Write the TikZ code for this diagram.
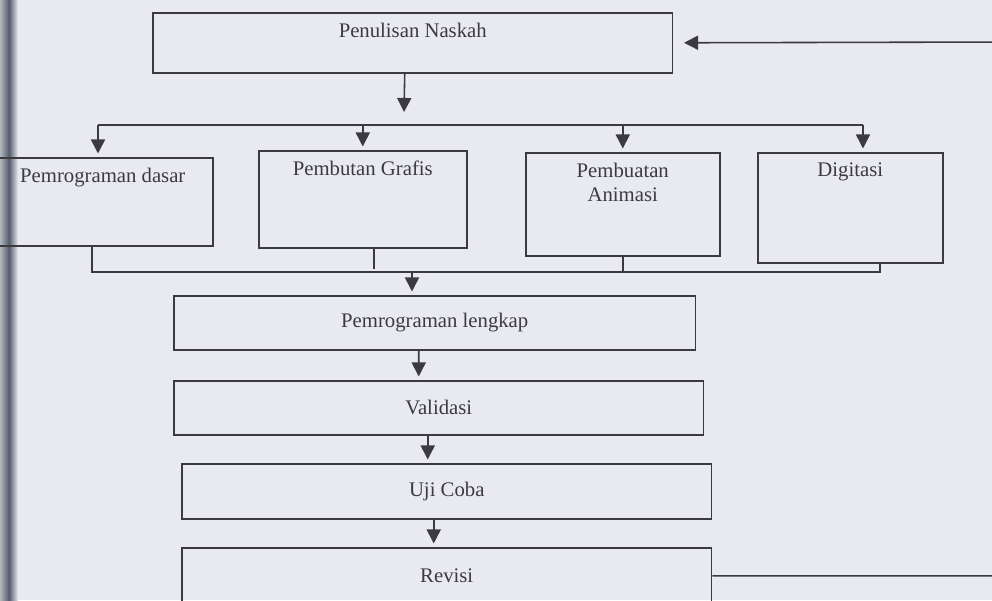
\documentclass[tikz,border=0pt]{standalone}
\usepackage{fontspec}
\setmainfont{Liberation Serif}
\usetikzlibrary{positioning,arrows.meta,calc}
\definecolor{Paper}{RGB}{233,233,240}
\definecolor{Ink}{RGB}{58,58,64}
\definecolor{Spine}{RGB}{84,92,108}

\begin{document}
\begin{tikzpicture}[
    x=0.02cm,y=-0.02cm,
    stage/.style={rectangle,draw=Ink,line width=0.9pt,inner sep=0pt,anchor=north west,text=Ink,font=\fontsize{11.8}{13.6}\selectfont},
    caption/.style={anchor=north,yshift=-6pt,inner sep=0pt,align=center,text=Ink,font=\fontsize{11.8}{13.6}\selectfont},
    arrow/.style={-{Triangle[length=8pt,width=8pt]},draw=Ink,line width=0.9pt,shorten >=2pt},
    wire/.style={draw=Ink,line width=0.9pt}
]

% Page and book spine
\useasboundingbox (0,0) rectangle (992,600);
\fill[Paper] (0,0) rectangle (992,600);
\shade[left color=Spine!45, right color=Spine] (0,0) rectangle (9,600);
\shade[left color=Spine, right color=Paper] (9,0) rectangle (18,600);

% Top
\node[stage,minimum width=10.4cm,minimum height=1.2cm,label={[caption]north:Penulisan Naskah}] (naskah) at (152,12) {};

% Parallel tasks
\node[stage,minimum width=4.4cm,minimum height=1.76cm,label={[caption]north:Pemrograman dasar}] (dasar) at (-8,157) {};
\node[stage,minimum width=4.16cm,minimum height=1.94cm,label={[caption]north:Pembutan Grafis}] (grafis) at (258,150) {};
\node[stage,minimum width=3.88cm,minimum height=2.06cm,label={[caption]north:{Pembuatan\\Animasi}}] (animasi) at (525,152) {};
\node[stage,minimum width=3.7cm,minimum height=2.2cm,label={[caption]north:Digitasi}] (digitasi) at (757,152) {};

% Sequential steps
\node[stage,minimum width=10.44cm,minimum height=1.08cm] (lengkap) at (173,295) {Pemrograman lengkap};
\node[stage,minimum width=10.6cm,minimum height=1.08cm] (validasi) at (173,380) {Validasi};
\node[stage,minimum width=10.6cm,minimum height=1.1cm] (uji) at (181,463) {Uji Coba};
\node[stage,minimum width=10.6cm,minimum height=1.12cm] (revisi) at (181,547) {Revisi};

% Fork
\coordinate (split) at (404,112);
\coordinate (fork-l) at (98,125);
\coordinate (fork-r) at (863,125);
\draw[arrow,shorten >=0pt] ($(naskah.south)+(-8,0)$) -- (split);
\draw[wire] (fork-l) -- (fork-r);
\draw[arrow] (fork-l) -- (fork-l |- dasar.north);
\draw[arrow] (grafis.north |- fork-l) -- (grafis.north);
\draw[arrow] (animasi.north |- fork-l) -- (animasi.north);
\draw[arrow] (fork-r) -- (fork-r |- digitasi.north);

% Join
\coordinate (join-l) at (92,272);
\coordinate (join-r) at (880,272);
\coordinate (merge) at (412,272);
\draw[wire] (join-l |- dasar.south) -- (join-l) -- (join-r) -- (join-r |- digitasi.south);
\draw[wire] ($(grafis.south)+(11,0)$) -- ($(grafis.south)+(11,20)$);
\draw[wire] (animasi.south) -- (animasi.south |- join-l);
\draw[arrow] (merge) -- (merge |- lengkap.north);

% Steps
\draw[arrow] ($(lengkap.south)+(-16,0)$) -- ($(validasi.north)+(-20,0)$);
\draw[arrow] ($(validasi.south)+(-11,0)$) -- ($(uji.north)+(-19,0)$);
\draw[arrow] ($(uji.south)+(-13,0)$) -- ($(revisi.north)+(-13,0)$);

% Feedback loop
\coordinate (loop) at (1010,42);
\draw[arrow,shorten >=6pt] (revisi.east) -| (loop) -- (naskah.east);

\end{tikzpicture}
\end{document}
